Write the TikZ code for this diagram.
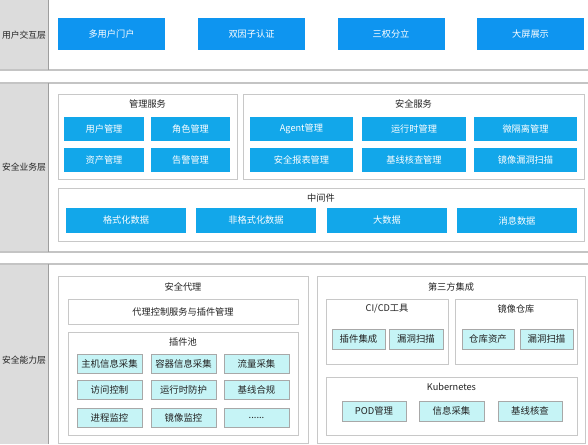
\documentclass[tikz,border=0pt]{standalone}
\usepackage{fontspec}
\setmainfont{Noto Sans CJK SC}
\usetikzlibrary{positioning}
\definecolor{layerGray}{HTML}{DCDCDC}
\definecolor{layerLine}{HTML}{9E9E9E}
\definecolor{bandLine}{HTML}{C4C4C4}
\definecolor{groupLine}{HTML}{C8C8C8}
\definecolor{uiBlue}{HTML}{0E95F0}
\definecolor{svcBlue}{HTML}{12A7EA}
\definecolor{plugCyan}{HTML}{C6F4F6}
\definecolor{plugLine}{HTML}{A8A8A8}
\definecolor{titleText}{HTML}{222222}
\tikzset{
  layer/.style={rectangle, fill=layerGray, minimum width=48pt, inner sep=0pt,
                font=\fontsize{8.8}{10}\selectfont, text=titleText},
  bandL/.style={draw=bandLine, line width=1.2pt},
  uiBox/.style={rectangle, fill=uiBlue, text=white, minimum width=107pt,
                minimum height=32pt, inner sep=0pt, font=\fontsize{9.2}{10}\selectfont},
  svcBox/.style={rectangle, fill=svcBlue, text=white, minimum height=24pt,
                 inner sep=0pt, font=\fontsize{9.2}{10}\selectfont},
  groupBox/.style={rectangle, draw=groupLine, fill=white, line width=0.9pt, inner sep=0pt},
  subBox/.style={rectangle, draw=groupLine, fill=white, line width=0.9pt, inner sep=0pt,
                 font=\fontsize{9.2}{10}\selectfont, text=titleText},
  plugBox/.style={rectangle, draw=plugLine, fill=plugCyan, line width=0.6pt,
                  minimum height=19pt, inner sep=0pt, text=titleText,
                  font=\fontsize{9.4}{10}\selectfont},
  groupTitle/.style={inner sep=0pt, text=titleText, font=\fontsize{9.2}{10}\selectfont},
}
\begin{document}
\begin{tikzpicture}[x=1pt, y=-1pt]
    \useasboundingbox (0,0) rectangle (588,444);
    %% Bands: user layer / business layer / capability layer
    \node[layer, minimum height=70pt] (lyUser) at (24,35) {用户交互层};
    \node[layer, minimum height=169pt] (lyBiz) at (24,167.5) {安全业务层};
    \node[layer, minimum height=180pt] (lyCap) at (24,354) {};
    \node[layer, fill=none] (lyCapText) at (24,360) {安全能力层};
    \draw[bandL] (0,70) -- (588,70);
    \draw[bandL] (0,83) -- (588,83); \draw[bandL] (0,252) -- (588,252);
    \draw[bandL] (0,264) -- (588,264);
    \draw[draw=layerLine, line width=0.9pt] (48,0) -- (48,70);
    \draw[draw=layerLine, line width=0.9pt] (48,83) -- (48,252);
    \draw[draw=layerLine, line width=0.9pt] (48,264) -- (48,444);

    %% Row 1: user interaction
    \node[uiBox] (portal) at (111.5,34) {多用户门户};
    \node[uiBox] (twofa) at (251.5,34) {双因子认证};
    \node[uiBox] (sep3) at (391,34) {三权分立};
    \node[uiBox] (screen) at (530.5,34) {大屏展示};

    %% Row 2: management services
    \node[groupBox, minimum width=179pt, minimum height=85pt] (mgmt) at (147.5,136.5) {};
    \node[groupTitle] (mgmtT) at (147.5,104) {管理服务};
    \node[svcBox, minimum width=80pt] (usr) at (104,129) {用户管理};
    \node[svcBox, minimum width=79pt] (role) at (190.5,129) {角色管理};
    \node[svcBox, minimum width=80pt] (asset) at (104,160) {资产管理};
    \node[svcBox, minimum width=79pt] (alarm) at (190.5,160) {告警管理};
    %% security services
    \node[groupBox, minimum width=341pt, minimum height=85pt] (secsvc) at (413.5,136.5) {};
    \node[groupTitle] (secsvcT) at (413.5,104) {安全服务};
    \node[svcBox, minimum width=103pt] (agent) at (301.5,129) {Agent管理};
    \node[svcBox, minimum width=104pt] (rt) at (414,129) {运行时管理};
    \node[svcBox, minimum width=103pt] (micro) at (525.5,129) {微隔离管理};
    \node[svcBox, minimum width=103pt] (report) at (301.5,160) {安全报表管理};
    \node[svcBox, minimum width=104pt] (base) at (414,160) {基线核查管理};
    \node[svcBox, minimum width=103pt] (imgscan) at (525.5,160) {镜像漏洞扫描};
    %% middleware
    \node[groupBox, minimum width=526pt, minimum height=53pt] (mid) at (321,214.5) {};
    \node[groupTitle] (midT) at (321,198) {中间件};
    \node[svcBox, minimum width=120pt, minimum height=25pt] (fmt) at (126,220.5) {格式化数据};
    \node[svcBox, minimum width=120pt, minimum height=25pt] (unfmt) at (256,220.5) {非格式化数据};
    \node[svcBox, minimum width=120pt, minimum height=25pt] (big) at (387,220.5) {大数据};
    \node[svcBox, minimum width=120pt, minimum height=25pt] (msg) at (517,220.5) {消息数据};

    %% Row 3: security agent
    \node[groupBox, minimum width=250pt, minimum height=167pt] (agt) at (183,359.5) {};
    \node[groupTitle] (agtT) at (183,287) {安全代理};
    \node[subBox, minimum width=230pt, minimum height=25pt] (ctl) at (183,311.5) {代理控制服务与插件管理};
    \node[subBox, minimum width=230pt, minimum height=103pt] (pool) at (183,383.5) {};
    \node[groupTitle] (poolT) at (183,342) {插件池};
    \node[plugBox, minimum width=65pt] (hostc) at (109.5,363.5) {主机信息采集};
    \node[plugBox, minimum width=65pt] (ctrc) at (183.5,363.5) {容器信息采集};
    \node[plugBox, minimum width=65pt] (flow) at (256.5,363.5) {流量采集};
    \node[plugBox, minimum width=65pt] (acl) at (109.5,390) {访问控制};
    \node[plugBox, minimum width=65pt] (rtp) at (183.5,390) {运行时防护};
    \node[plugBox, minimum width=65pt] (cmpl) at (256.5,390) {基线合规};
    \node[plugBox, minimum width=65pt] (proc) at (109.5,417.5) {进程监控};
    \node[plugBox, minimum width=65pt] (imgmon) at (183.5,417.5) {镜像监控};
    \node[plugBox, minimum width=65pt] (more) at (256.5,417.5) {......};
    %% third-party integration
    \node[groupBox, minimum width=268pt, minimum height=167pt] (third) at (451,359.5) {};
    \node[groupTitle] (thirdT) at (451,287) {第三方集成};
    \node[subBox, minimum width=122pt, minimum height=65pt] (cicd) at (387,331.5) {};
    \node[groupTitle] (cicdT) at (387,309) {CI/CD工具};
    \node[plugBox, minimum width=53pt, minimum height=20pt] (plugin) at (358.5,339) {插件集成};
    \node[plugBox, minimum width=54pt, minimum height=20pt] (vuln1) at (416,339) {漏洞扫描};
    \node[subBox, minimum width=122pt, minimum height=65pt] (repo) at (516,331.5) {};
    \node[groupTitle] (repoT) at (516,309) {镜像仓库};
    \node[plugBox, minimum width=52pt, minimum height=20pt] (repoAsset) at (488,339) {仓库资产};
    \node[plugBox, minimum width=53pt, minimum height=20pt] (vuln2) at (546.5,339) {漏洞扫描};
    \node[subBox, minimum width=251pt, minimum height=58pt] (k8s) at (451.5,406) {};
    \node[groupTitle] (k8sT) at (451.5,387) {Kubernetes};
    \node[plugBox, minimum width=64pt, minimum height=20pt] (pod) at (374,411) {POD管理};
    \node[plugBox, minimum width=65pt, minimum height=20pt] (info) at (451.5,411) {信息采集};
    \node[plugBox, minimum width=64pt, minimum height=20pt] (kbase) at (530,411) {基线核查};
  \end{tikzpicture}
\end{document}
